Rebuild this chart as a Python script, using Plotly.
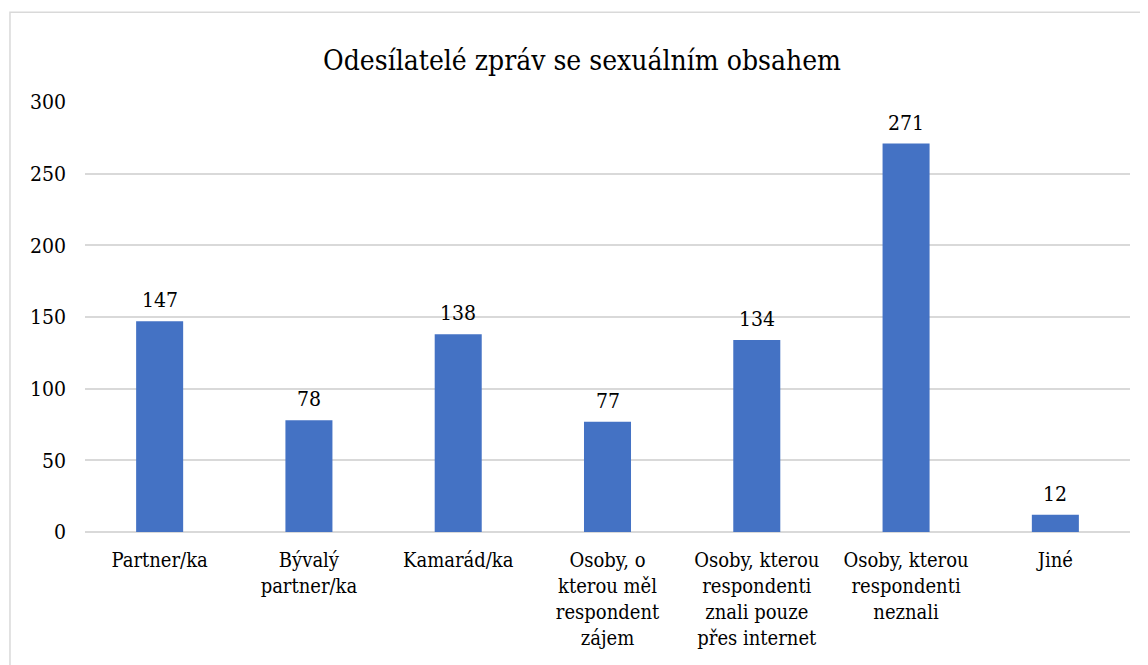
import plotly.graph_objects as go

# data
categories = [
    "Partner/ka",
    "Bývalý<br>partner/ka",
    "Kamarád/ka",
    "Osoby, o<br>kterou měl<br>respondent<br>zájem",
    "Osoby, kterou<br>respondenti<br>znali pouze<br>přes internet",
    "Osoby, kterou<br>respondenti<br>neznali",
    "Jiné",
]
values = [147, 78, 138, 77, 134, 271, 12]
y_ticks = [0, 50, 100, 150, 200, 250, 300]

FONT = "DejaVu Serif Condensed, DejaVu Serif"
BLUE = "#4472C4"
GRID = "#D9D9D9"

fig = go.Figure(
    go.Bar(
        x=categories,
        y=values,
        marker={"color": BLUE, "line": {"width": 0}},
        hoverinfo="x+y",
    )
)

# value labels above the bars
annotations = [
    dict(x=c, y=v, text=str(v), xref="x", yref="y", showarrow=False,
         yanchor="bottom", yshift=7, font={"family": FONT, "size": 21, "color": "#000000"})
    for c, v in zip(categories, values)
]

# the page body adds an 8px offset, so margins are shifted by 8
fig.update_layout(
    width=1148,
    height=665,
    margin={"l": 77, "r": 26, "t": 94, "b": 141},
    paper_bgcolor="white",
    plot_bgcolor="white",
    bargap=0.685,
    showlegend=False,
    font={"family": FONT, "size": 21, "color": "#000000"},
    title={
        "text": "Odesílatelé zpráv se sexuálním obsahem",
        "x": 0.5,
        "xanchor": "center",
        "y": 0.922,
        "yanchor": "middle",
        "font": {"family": FONT, "size": 28, "color": "#000000"},
    },
    xaxis={
        "type": "category",
        "showgrid": False,
        "showline": False,
        "ticks": "",
        "tickangle": 0,
        "ticklabelstandoff": 14,
        "tickfont": {"family": FONT, "size": 20},
    },
    yaxis={
        "range": [0, 300],
        "tickvals": y_ticks,
        "showgrid": True,
        "gridcolor": GRID,
        "gridwidth": 1.5,
        "zeroline": True,
        "zerolinecolor": GRID,
        "zerolinewidth": 1.5,
        "showline": False,
        "ticks": "",
        "ticklabelstandoff": 18,
        "tickfont": {"family": FONT, "size": 21},
    },
    annotations=annotations,
    shapes=[
        dict(type="rect", xref="paper", yref="paper",
             x0=-0.0718, x1=1.2, y0=-0.6, y1=1.209,
             line={"color": GRID, "width": 1.5}, fillcolor="rgba(0,0,0,0)", layer="below")
    ],
)

fig.write_html("out.html")
